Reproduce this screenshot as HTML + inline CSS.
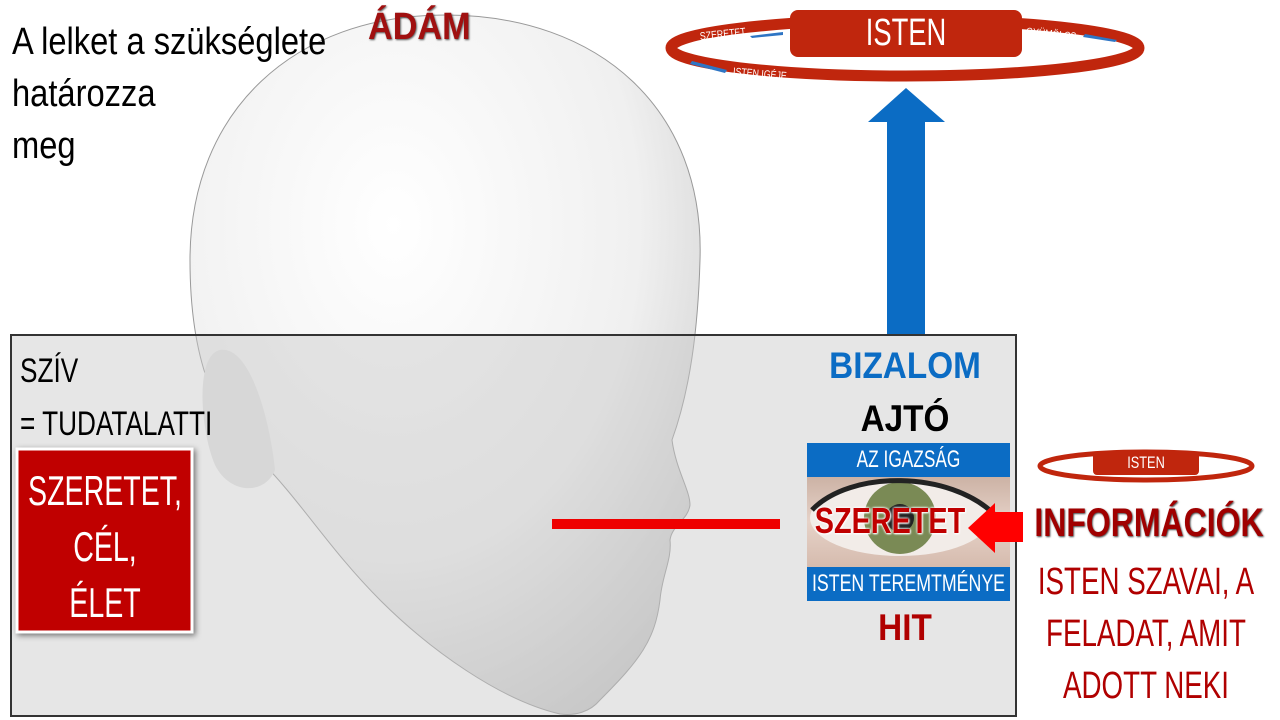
<!DOCTYPE html>
<html><head><meta charset="utf-8"><style>
body{margin:0;width:1280px;height:720px;overflow:hidden;background:#fff;position:relative;font-family:"Liberation Sans",sans-serif}
.t{position:absolute;white-space:nowrap;line-height:1}
</style></head><body>
<svg width="1280" height="720" style="position:absolute;left:0;top:0">
<defs>
<radialGradient id="hg" cx="0.4" cy="0.3" r="0.8"><stop offset="0" stop-color="#ffffff"/><stop offset="0.6" stop-color="#f0f0f0"/><stop offset="1" stop-color="#c8c8c8"/></radialGradient>
<linearGradient id="eye" x1="0" y1="0" x2="0" y2="1"><stop offset="0" stop-color="#b89a8a"/><stop offset="0.5" stop-color="#e6d2c8"/><stop offset="1" stop-color="#c9aa9a"/></linearGradient>
</defs>
<path d="M445,15 C600,15 705,110 700,260 C698,330 690,390 672,440 C676,470 690,490 690,505 C688,520 672,525 670,540 C672,560 662,575 660,600 C655,640 640,660 600,700 C590,712 575,716 560,714 C500,700 430,650 380,600 C330,550 300,500 260,460 C215,420 190,360 190,260 C190,110 295,15 445,15 Z" fill="url(#hg)" stroke="#999" stroke-width="1"/>
<path d="M220,350 C195,355 200,430 215,465 C230,495 265,495 275,470 C270,420 250,345 220,350 Z" fill="#e4e4e4"/>
<rect x="11" y="335" width="1005" height="381" fill="rgba(200,200,200,0.45)" stroke="#333" stroke-width="2"/>
<ellipse cx="905" cy="48" rx="234" ry="28" fill="none" stroke="#c0260d" stroke-width="11"/>
<rect x="790" y="10" width="232" height="47" rx="8" fill="#c0260d"/>
<polygon points="783,32 750,36 752,38 783,35" fill="#2e75c4"/>
<polygon points="1085,34 1117,40 1115,42 1083,37" fill="#2e75c4"/>
<polygon points="692,61 727,70 725,73 690,64" fill="#2e75c4"/>
<rect x="887" y="120" width="38" height="214" fill="#0b6cc4"/>
<polygon points="868,122 945,122 906,88" fill="#0b6cc4"/>
<ellipse cx="1146" cy="466" rx="106" ry="14" fill="none" stroke="#c0260d" stroke-width="5"/>
<rect x="1093" y="452" width="106" height="23" rx="4" fill="#c0260d"/>
<rect x="807" y="443" width="203" height="158" fill="url(#eye)"/>
<ellipse cx="900" cy="518" rx="90" ry="38" fill="#f2ece8"/>
<circle cx="900" cy="518" r="36" fill="#7a8a55"/>
<circle cx="900" cy="518" r="14" fill="#222"/>
<path d="M812,510 C850,470 950,470 995,515" fill="none" stroke="#222" stroke-width="5"/>
<rect x="807" y="443" width="203" height="34" fill="#0b6cc4"/>
<rect x="807" y="567" width="203" height="34" fill="#0b6cc4"/>
<rect x="552" y="519" width="228" height="10" fill="#e00"/>
<polygon points="1023,512 995,512 995,503 968,528 995,553 995,542 1023,542" fill="#f00"/>
<rect x="17" y="449" width="175" height="183" fill="#c00000" stroke="#fff" stroke-width="3" style="filter:drop-shadow(2px 2px 3px rgba(0,0,0,.5))"/>
</svg>
<div class="t" style="left:12px;top:16px;font-size:38px;line-height:52px;transform:scaleX(.86);transform-origin:left">A lelket a szükséglete<br>határozza<br>meg</div>
<div class="t" style="left:368px;top:8px;font-size:38px;font-weight:bold;color:#a01010;text-shadow:1px 1px 2px #555;transform:scaleX(.9);transform-origin:left">ÁDÁM</div>
<div class="t" style="left:790px;top:14px;width:232px;text-align:center;font-size:38px;color:#fff;transform:scaleX(.72)">ISTEN</div>
<div class="t" style="left:700px;top:32px;font-size:11px;color:#fff;transform:rotate(-6deg) scaleX(.8);transform-origin:left">SZERETET</div>
<div class="t" style="left:1026px;top:27px;font-size:11px;color:#fff;transform:rotate(6deg) scaleX(.8);transform-origin:left">GYÜMÖLCS</div>
<div class="t" style="left:733px;top:67px;font-size:11px;color:#fff;transform:rotate(5deg) scaleX(.8);transform-origin:left">ISTEN IGÉJE</div>
<div class="t" style="left:1093px;top:454px;width:106px;text-align:center;font-size:17px;color:#fff;transform:scaleX(.75)">ISTEN</div>
<div class="t" style="left:20px;top:345px;font-size:34px;line-height:53px;transform:scaleX(.77);transform-origin:left">SZÍV<br>= TUDATALATTI</div>
<div class="t" style="left:-20px;top:463px;width:250px;text-align:center;font-size:42px;line-height:56px;color:#fff;transform:scaleX(.68)">SZERETET,<br>CÉL,<br>ÉLET</div>
<div class="t" style="left:805px;top:347px;width:200px;text-align:center;font-size:37px;font-weight:bold;color:#0b6cc4;transform:scaleX(.9)">BIZALOM</div>
<div class="t" style="left:805px;top:400px;width:200px;text-align:center;font-size:37px;font-weight:bold;color:#000;transform:scaleX(.9)">AJTÓ</div>
<div class="t" style="left:780px;top:448px;width:257px;text-align:center;font-size:24px;color:#fff;transform:scaleX(.72)">AZ IGAZSÁG</div>
<div class="t" style="left:760px;top:572px;width:297px;text-align:center;font-size:24px;color:#fff;transform:scaleX(.74)">ISTEN TEREMTMÉNYE</div>
<div class="t" style="left:790px;top:503px;width:200px;text-align:center;font-size:36px;font-weight:bold;color:#c00000;text-shadow:0 0 3px #fff,0 0 3px #fff,1px 1px 2px #fff;transform:scaleX(.8)">SZERETET</div>
<div class="t" style="left:805px;top:609px;width:200px;text-align:center;font-size:37px;font-weight:bold;color:#b00000;transform:scaleX(.9)">HIT</div>
<div class="t" style="left:999px;top:503px;width:300px;text-align:center;font-size:40px;font-weight:bold;color:#a00000;text-shadow:1px 1px 2px #444;transform:scaleX(.8)">INFORMÁCIÓK</div>
<div class="t" style="left:996px;top:556px;width:300px;text-align:center;font-size:38px;line-height:52px;color:#b00000;transform:scaleX(.73)">ISTEN SZAVAI, A<br>FELADAT, AMIT<br>ADOTT NEKI</div>
</body></html>
